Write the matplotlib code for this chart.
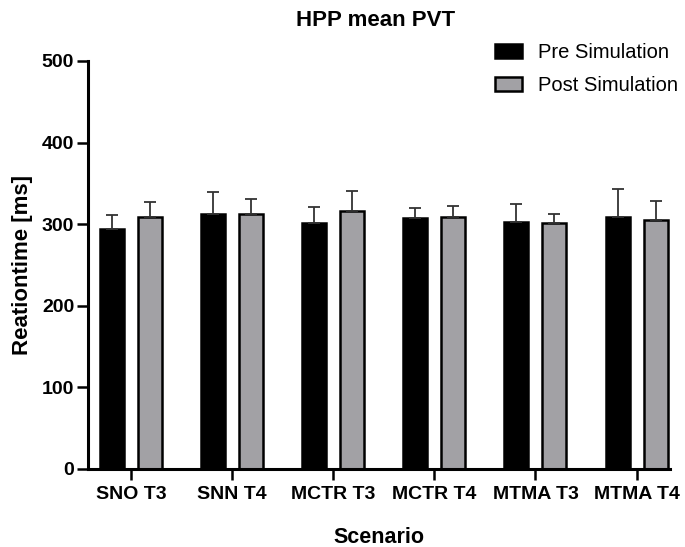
import matplotlib.pyplot as plt
import numpy as np

plt.rcParams['font.family'] = ['Liberation Sans', 'DejaVu Sans']

# Data
scenarios = ['SNO T3', 'SNN T4', 'MCTR T3', 'MCTR T4', 'MTMA T3', 'MTMA T4']
pre_mean = [294, 313, 301, 308, 303, 309]
pre_err = [17, 27, 20, 12, 22, 34]
post_mean = [309, 313, 316, 309, 301, 305]
post_err = [18, 18, 25, 13, 11, 23]
y_ticks = [0, 100, 200, 300, 400, 500]

x = np.arange(len(scenarios))
w = 0.237
off = 0.188

fig = plt.figure(figsize=(6.85, 5.47), dpi=100)
ax = fig.add_axes([0.1285, 0.1426, 0.8495, 0.7459])

err_kw = dict(ecolor='#333333', elinewidth=1.3, capsize=4.3, capthick=1.3)
zeros = np.zeros(len(scenarios))
ax.bar(x - off, pre_mean, w, color='black', edgecolor='black', linewidth=1.8,
       yerr=[zeros, pre_err], error_kw=err_kw, label='Pre Simulation', zorder=2)
ax.bar(x + off, post_mean, w, color='#a2a1a5', edgecolor='black', linewidth=1.8,
       yerr=[zeros, post_err], error_kw=err_kw, label='Post Simulation', zorder=2)

ax.set_xlim(-0.425, 5.33)
ax.set_ylim(0, 500)
ax.set_yticks(y_ticks)
ax.set_yticklabels([str(t) for t in y_ticks], fontsize=14, fontweight='bold')
ax.set_xticks(x)
ax.set_xticklabels(scenarios, fontsize=14, fontweight='bold')

for s in ['top', 'right']:
    ax.spines[s].set_visible(False)
for s in ['left', 'bottom']:
    ax.spines[s].set_linewidth(2.2)
ax.tick_params(axis='y', length=8, width=1.8, pad=2)
ax.tick_params(axis='x', length=8, width=1.8, pad=4)

ax.set_ylabel('Reationtime [ms]', fontsize=16, fontweight='bold', va='center')
ax.yaxis.set_label_coords(-0.113, 0.5)
ax.set_xlabel('Scenario', fontsize=15.5, fontweight='bold', va='center')
ax.xaxis.set_label_coords(0.5, -0.167)
fig.text(376 / 685, 1 - 20 / 547, 'HPP mean PVT', fontsize=16, fontweight='bold',
         ha='center', va='center')

ax.legend(loc='upper left', bbox_to_anchor=(495 / 685, 1 - 43 / 547),
          bbox_transform=fig.transFigure, frameon=False, fontsize=14.5,
          borderpad=0, borderaxespad=0, handlelength=1.34, handleheight=0.65,
          handletextpad=0.8, labelspacing=0.7)

fig.savefig('out.png', dpi=100)
